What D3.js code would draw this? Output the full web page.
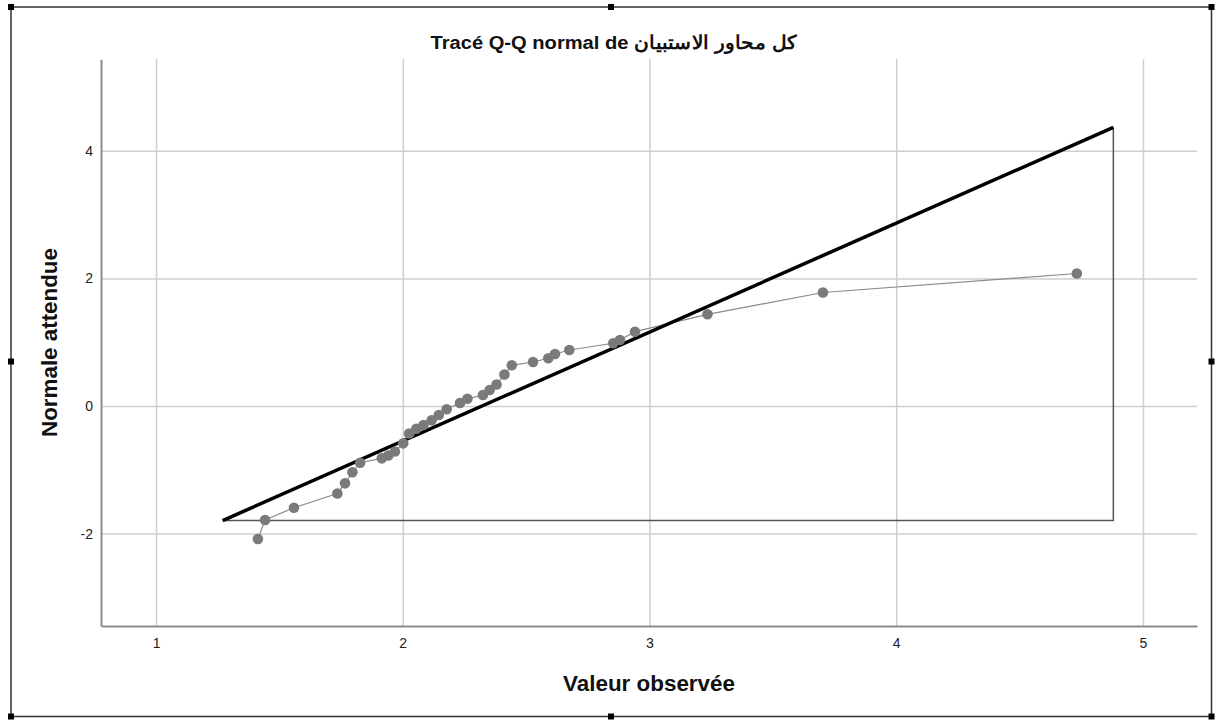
<!DOCTYPE html>
<html>
<head>
<meta charset="utf-8">
<script src="https://cdn.jsdelivr.net/npm/d3@7"></script>
<style>
  body { margin: 0; background: #fff; }
  svg { display: block; font-family: "Liberation Sans", Arial, sans-serif; }
</style>
</head>
<body>
<svg id="graph"></svg>
<script>
// valeurs
var observed = [1.413, 1.442, 1.559, 1.735, 1.766, 1.796, 1.827, 1.915, 1.941, 1.968,
    2.002, 2.026, 2.055, 2.084, 2.117, 2.146, 2.178, 2.232, 2.262, 2.325,
    2.352, 2.380, 2.412, 2.442, 2.528, 2.590, 2.617, 2.675, 2.853, 2.880,
    2.941, 3.235, 3.703, 4.732];
var expected = [-2.085, -1.787, -1.594, -1.371, -1.212, -1.038, -0.889, -0.820, -0.776, -0.713,
    -0.585, -0.431, -0.357, -0.298, -0.224, -0.141, -0.050, 0.047, 0.113, 0.172,
    0.251, 0.337, 0.494, 0.638, 0.690, 0.748, 0.815, 0.878, 0.983, 1.034,
    1.165, 1.437, 1.779, 2.077];
var refX = [1.270, 4.880];
var refY = [-1.795, 4.368];
var xTicks = [1, 2, 3, 4, 5];
var yTicks = [-2, 0, 2, 4];
var titleText = "Tracé Q-Q normal de كل محاور الاستبيان";
var xTitle = "Valeur observée";
var yTitle = "Normale attendue";

function drawQQ() {
    var width = 1215, height = 722;
    var svg = d3.select("#graph")
        .attr("width", width)
        .attr("height", height);

    var x = d3.scaleLinear().domain([0.777, 5.219]).range([101, 1197]);
    var y = d3.scaleLinear().domain([-3.448, 5.434]).range([626, 59.3]);

    // cadre de sélection
    svg.append("rect")
        .attr("x", 11).attr("y", 7)
        .attr("width", 1200.5).attr("height", 709.5)
        .attr("fill", "none")
        .attr("stroke", "#333")
        .attr("stroke-width", 1.5);
    var hx = [11, 611, 1211.5], hy = [7, 361.5, 716.5];
    hx.forEach(function (a) {
        hy.forEach(function (b) {
            if (a == 611 && b == 361.5) return;
            svg.append("rect")
                .attr("x", a - 3).attr("y", b - 3)
                .attr("width", 6).attr("height", 6)
                .attr("fill", "#000");
        });
    });

    // grilles
    svg.append("g")
        .attr("transform", "translate(0,626)")
        .call(d3.axisBottom(x).tickValues(xTicks).tickSize(-(626 - 59.3)).tickFormat(""))
        .call(g => g.select(".domain").remove())
        .selectAll("line").attr("stroke", "#cfcfcf").attr("stroke-width", 1.5);
    svg.append("g")
        .attr("transform", "translate(101,0)")
        .call(d3.axisLeft(y).tickValues(yTicks).tickSize(-(1197 - 101)).tickFormat(""))
        .call(g => g.select(".domain").remove())
        .selectAll("line").attr("stroke", "#cfcfcf").attr("stroke-width", 1.5);

    // axes
    var fmt = d => String(d);
    var xa = svg.append("g")
        .attr("transform", "translate(0,626)")
        .call(d3.axisBottom(x).tickValues(xTicks).tickFormat(fmt).tickSizeInner(0).tickSizeOuter(0).tickPadding(12));
    var ya = svg.append("g")
        .attr("transform", "translate(101,0)")
        .call(d3.axisLeft(y).tickValues(yTicks).tickFormat(fmt).tickSizeInner(0).tickSizeOuter(0).tickPadding(8));
    [xa, ya].forEach(function (g) {
        g.select(".domain").attr("stroke", "#8c8c8c").attr("stroke-width", 2);
        g.selectAll("text")
            .attr("font-family", "Liberation Sans, Arial, sans-serif")
            .attr("font-size", 14)
            .attr("fill", "#222");
    });

    // droite de référence et triangle
    svg.append("path")
        .attr("d", "M" + x(refX[0]) + "," + y(refY[0]) + "L" + x(refX[1]) + "," + y(refY[0]) + "L" + x(refX[1]) + "," + y(refY[1]))
        .attr("fill", "none")
        .attr("stroke", "#555")
        .attr("stroke-width", 1.5);

    var pts = observed.map((d, i) => [d, expected[i]]);
    svg.append("path")
        .datum(pts)
        .attr("d", d3.line().x(d => x(d[0])).y(d => y(d[1])))
        .attr("fill", "none")
        .attr("stroke", "#8a8a8a")
        .attr("stroke-width", 1.2);

    svg.append("line")
        .attr("x1", x(refX[0])).attr("y1", y(refY[0]))
        .attr("x2", x(refX[1])).attr("y2", y(refY[1]))
        .attr("stroke", "#000")
        .attr("stroke-width", 3.5);

    svg.selectAll("circle")
        .data(pts)
        .enter()
        .append("circle")
        .attr("cx", d => x(d[0]))
        .attr("cy", d => y(d[1]))
        .attr("r", 5.3)
        .attr("fill", "#7a7a7a");

    // titres
    var t = svg.append("text")
        .attr("text-anchor", "middle")
        .attr("font-weight", "bold")
        .attr("font-size", 19)
        .attr("fill", "#111")
        .text(titleText);
    var tl = t.node().getComputedTextLength();
    t.attr("transform", "translate(614,49) scale(" + (362 / tl) + ",1)");

    var xt = svg.append("text")
        .attr("text-anchor", "middle")
        .attr("font-weight", "bold")
        .attr("font-size", 22)
        .attr("fill", "#111")
        .text(xTitle);
    var xl = xt.node().getComputedTextLength();
    xt.attr("transform", "translate(649,691) scale(" + (172 / xl) + ",1)");

    var yt = svg.append("text")
        .attr("text-anchor", "middle")
        .attr("font-weight", "bold")
        .attr("font-size", 22)
        .attr("fill", "#111")
        .text(yTitle);
    var yl = yt.node().getComputedTextLength();
    yt.attr("transform", "translate(57,342.5) rotate(-90) scale(" + (189 / yl) + ",1)");
}

drawQQ();
</script>
</body>
</html>
